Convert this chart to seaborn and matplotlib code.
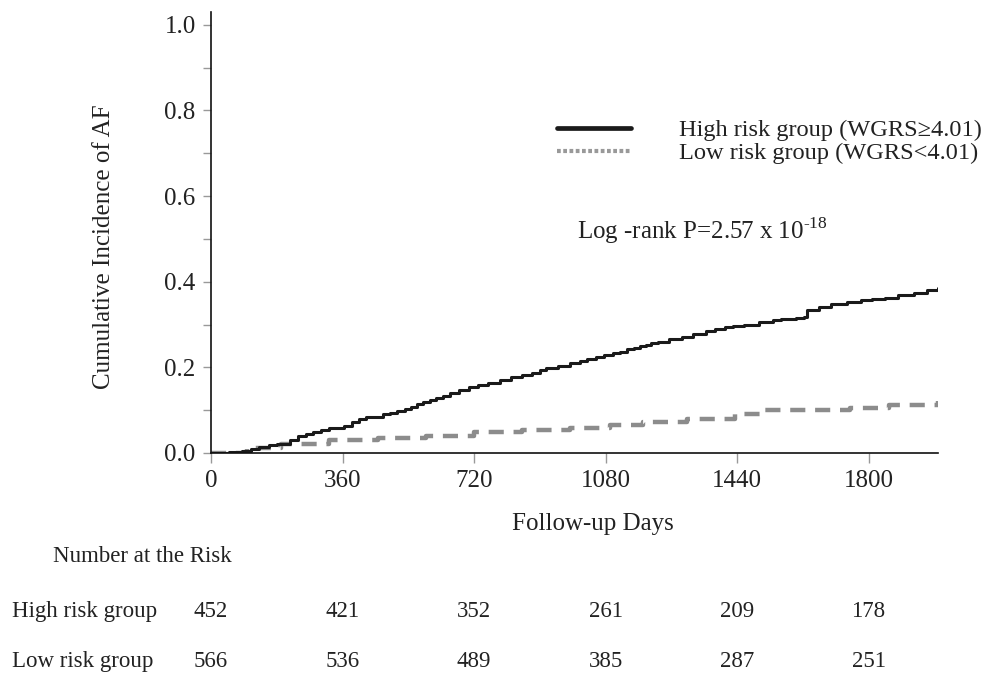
import numpy as np
import pandas as pd
import seaborn as sns
import matplotlib.pyplot as plt
from matplotlib.lines import Line2D
from matplotlib.ticker import MultipleLocator, FormatStrFormatter
import matplotlib.transforms as mtransforms

# cumulative incidence (days, value)
high_days = [0, 50, 85, 110, 132, 160, 180, 217, 239, 260, 280, 300, 324, 363, 385, 404,
             425, 440, 470, 490, 508, 530, 547, 565, 580, 600, 615, 635, 654, 680, 706,
             730, 759, 790, 820, 850, 880, 900, 918, 950, 984, 1010, 1030, 1055, 1077,
             1100, 1120, 1140, 1157, 1175, 1190, 1205, 1223, 1255, 1290, 1320, 1355,
             1380, 1407, 1430, 1459, 1500, 1539, 1560, 1580, 1600, 1624, 1632, 1665,
             1698, 1740, 1778, 1810, 1844, 1880, 1924, 1960, 1990]
high_vals = [0.0, 0.002, 0.005, 0.01, 0.015, 0.018, 0.022, 0.03, 0.04, 0.045, 0.05, 0.054,
             0.058, 0.063, 0.072, 0.08, 0.083, 0.085, 0.09, 0.094, 0.097, 0.103, 0.108,
             0.114, 0.118, 0.124, 0.128, 0.134, 0.14, 0.148, 0.154, 0.159, 0.164, 0.171,
             0.177, 0.182, 0.188, 0.193, 0.198, 0.204, 0.211, 0.216, 0.22, 0.224, 0.228,
             0.233, 0.237, 0.242, 0.246, 0.25, 0.253, 0.257, 0.26, 0.266, 0.272, 0.279,
             0.285, 0.29, 0.295, 0.297, 0.299, 0.305, 0.31, 0.312, 0.314, 0.316, 0.318,
             0.334, 0.34, 0.347, 0.352, 0.357, 0.36, 0.363, 0.368, 0.374, 0.38, 0.386]

low_days = [0, 99, 192, 324, 456, 588, 720, 852, 984, 1091, 1182, 1302, 1434, 1512,
            1618, 1750, 1857, 1990]
low_vals = [0.0, 0.012, 0.022, 0.03, 0.035, 0.04, 0.048, 0.054, 0.059, 0.065, 0.072,
            0.08, 0.09, 0.1, 0.101, 0.105, 0.112, 0.122]

tick_days = [0, 360, 720, 1080, 1440, 1800]
risk_high = [452, 421, 352, 261, 209, 178]
risk_low = [566, 536, 489, 385, 287, 251]

groups = ["High risk group (WGRS\u22654.01)", "Low risk group (WGRS<4.01)"]

sns.set_style("ticks")
plt.rcParams['font.family'] = ['Liberation Serif', 'DejaVu Serif']
plt.rcParams['mathtext.fontset'] = 'custom'
plt.rcParams['mathtext.rm'] = 'Liberation Serif'

fig = plt.figure(figsize=(10.02, 6.74), dpi=100)
ax = fig.add_axes([0.2106, 0.3279, 0.7255, 0.6543])

df_high = pd.DataFrame({"day": high_days, "ci": high_vals})
df_low = pd.DataFrame({"day": low_days, "ci": low_vals})

sns.lineplot(data=df_low, x="day", y="ci", ax=ax, color="#8c8c8c", lw=3.2,
             drawstyle="steps-post", estimator=None)
ax.lines[-1].set_dashes((3.4, 2.2))
sns.lineplot(data=df_high, x="day", y="ci", ax=ax, color="#1a1a1a", lw=2.2,
             drawstyle="steps-post", estimator=None)

ax.set_xlim(0, 1990)
ax.set_ylim(0, 1.03)
ax.set_xticks(tick_days)
ax.yaxis.set_major_locator(MultipleLocator(0.2))
ax.yaxis.set_minor_locator(MultipleLocator(0.1))
ax.yaxis.set_major_formatter(FormatStrFormatter("%.1f"))
ax.tick_params(axis="both", which="both", colors="#999999", labelcolor="#222222",
               labelsize=18, width=1)
ax.tick_params(axis="x", length=7, pad=5)
ax.tick_params(axis="y", which="major", length=6, pad=5)
ax.tick_params(axis="y", which="minor", length=6)
for s in ["top", "right"]:
    ax.spines[s].set_visible(False)
for s in ["left", "bottom"]:
    ax.spines[s].set_color("#111111")
    ax.spines[s].set_linewidth(1.2)

ax.set_xlabel("Follow-up Days", fontsize=18, color="#222222")
ax.xaxis.set_label_coords(0.525, -0.135)
ax.set_ylabel("Cumulative Incidence of AF", fontsize=18, color="#222222")
ax.yaxis.set_label_coords(-0.132, 0.467)

handles = [Line2D([], [], color="#1a1a1a", lw=3.4),
           Line2D([], [], color="#999999", lw=3.0, ls=(0, (0.9, 0.6)))]
fig.legend(handles, groups, loc="upper left", bbox_to_anchor=(0.546, 0.838),
           frameon=False, fontsize=17.6, handlelength=3.05, handletextpad=1.95,
           labelspacing=0.05, labelcolor="#222222", borderaxespad=0)

ax.text(0.503, 0.505, r"Log -rank P=2.57 x 10$^{\text{-18}}$", transform=ax.transAxes,
        fontsize=18, color="#222222", ha="left", va="center")

# number at risk table
trans = mtransforms.blended_transform_factory(ax.transData, fig.transFigure)
fig.text(0.053, 0.174, "Number at the Risk", fontsize=16.5, color="#222222", va="center")
fig.text(0.012, 0.092, "High risk group", fontsize=16.5, color="#222222", va="center")
fig.text(0.012, 0.018, "Low risk group", fontsize=16.5, color="#222222", va="center")
for d, nh, nl in zip(tick_days, risk_high, risk_low):
    ax.text(d, 0.092, str(nh), transform=trans, fontsize=16.5, color="#222222",
            ha="center", va="center")
    ax.text(d, 0.018, str(nl), transform=trans, fontsize=16.5, color="#222222",
            ha="center", va="center")

fig.savefig("out.png", dpi=100)
